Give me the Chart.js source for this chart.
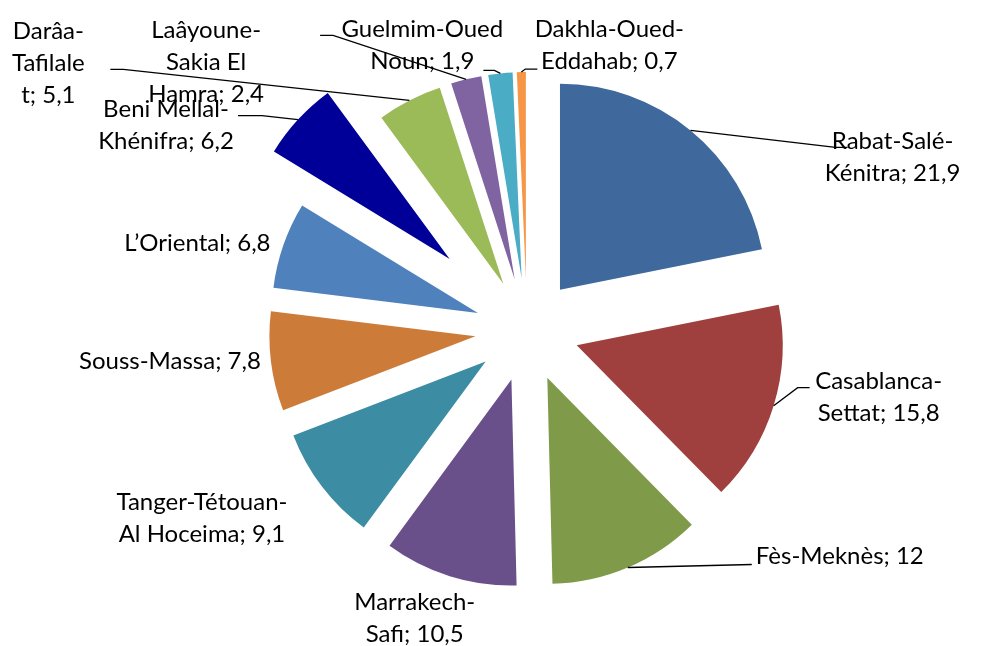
<!DOCTYPE html>
<html>
<head>
<meta charset="utf-8">
<script src="https://cdn.jsdelivr.net/npm/chart.js@4.4.1/dist/chart.umd.min.js"></script>
<style>
  html, body { margin: 0; padding: 0; background: #fff; }
  #zona { width: 987px; height: 646px; }
</style>
</head>
<body>
<div id="zona"><canvas id="graficoRegiones"></canvas></div>
<script>
// Datos
const regiones = [
    'Rabat-Salé-Kénitra', 'Casablanca-Settat', 'Fès-Meknès', 'Marrakech-Safi',
    'Tanger-Tétouan-Al Hoceima', 'Souss-Massa', 'L’Oriental', 'Beni Mellal-Khénifra',
    'Darâa-Tafilalet', 'Laâyoune-Sakia El Hamra', 'Guelmim-Oued Noun', 'Dakhla-Oued-Eddahab'
];
const partes = [21.9, 15.8, 12, 10.5, 9.1, 7.8, 6.8, 6.2, 5.1, 2.4, 1.9, 0.7];

// Estilo
const colores = ['#3F699C', '#A0403E', '#7F9A48', '#69508A', '#3C8CA3', '#CC7B38',
                 '#4F81BD', '#000099', '#9BBB59', '#8064A2', '#4BACC6', '#F79646'];
const separacion = [52, 52, 52, 52, 52, 52, 52, 105, 52, 52, 52, 52]; // px hacia fuera
const anchoTexto = [170, 160, 260, 140, 180, 260, 260, 160, 75, 140, 185, 170]; // ancho de ajuste
// desplazamiento del texto respecto al borde exterior de la porción
const posTexto = [[202, 27], [105, -8], [212, -11], [-35, 42], [-120, 32], [-101, 0],
                  [-86, -2], [-132, 6], [-361, -37], [-260, -17], [-78, -28], [88, -27]];
// línea guía: codo [dx, dy] y tramo horizontal
const guias = [[145, 17, 12], [24, -18, 12], [124, -3, 0], null, null, null,
               null, [-36, -4, -24], [-286, -31, -13], [-133, -44, -13], [-6, -3, -11], [4, -3, 12]];

const fuente = '24px Lato, Carlito, Calibri, sans-serif';
const altoLinea = 32;

function ajustar(ctx, texto, ancho) {
    // corta después de guion o espacio; si una palabra no cabe, corta por letras
    const trozos = texto.match(/[^\s-]+-?\s?|-\s?|\s/g);
    const lineas = [];
    let actual = '';
    trozos.forEach(t => {
        const prueba = actual + t;
        if (ctx.measureText(prueba.trim()).width <= ancho || actual === '') {
            actual = prueba;
        } else {
            lineas.push(actual.trim());
            actual = t;
        }
        while (ctx.measureText(actual.trim()).width > ancho && actual.trim().length > 1) {
            let k = actual.length - 1;
            while (k > 1 && ctx.measureText(actual.slice(0, k)).width > ancho) k--;
            lineas.push(actual.slice(0, k));
            actual = actual.slice(k);
        }
    });
    if (actual.trim()) lineas.push(actual.trim());
    return lineas;
}

const porcionesSeparadas = {
    id: 'porcionesSeparadas',
    beforeDatasetDraw(chart, args) {
        const ctx = chart.ctx;
        args.meta.data.forEach((arco, i) => {
            const medio = (arco.startAngle + arco.endAngle) / 2;
            ctx.save();
            ctx.translate(Math.cos(medio) * separacion[i], Math.sin(medio) * separacion[i]);
            arco.draw(ctx);
            ctx.restore();
        });
        return false;
    }
};

const etiquetas = {
    id: 'etiquetas',
    afterDatasetsDraw(chart) {
        const ctx = chart.ctx;
        const meta = chart.getDatasetMeta(0);
        ctx.save();
        ctx.font = fuente;
        ctx.fillStyle = '#000';
        ctx.strokeStyle = '#000';
        ctx.lineWidth = 1.3;
        ctx.textAlign = 'center';
        ctx.textBaseline = 'middle';
        meta.data.forEach((arco, i) => {
            const medio = (arco.startAngle + arco.endAngle) / 2;
            const r = arco.outerRadius + separacion[i];
            const px = arco.x + Math.cos(medio) * r;
            const py = arco.y + Math.sin(medio) * r;
            const g = guias[i];
            if (g) {
                ctx.beginPath();
                ctx.moveTo(px, py);
                ctx.lineTo(px + g[0], py + g[1]);
                ctx.lineTo(px + g[0] + g[2], py + g[1]);
                ctx.stroke();
            }
            const texto = regiones[i] + '; ' + String(partes[i]).replace('.', ',');
            const lineas = ajustar(ctx, texto, anchoTexto[i]);
            const cx = px + posTexto[i][0];
            const cy = py + posTexto[i][1];
            lineas.forEach((l, j) => {
                ctx.fillText(l, cx, cy + (j - (lineas.length - 1) / 2) * altoLinea);
            });
        });
        ctx.restore();
    }
};

const ctx = document.getElementById('graficoRegiones').getContext('2d');
new Chart(ctx, {
    type: 'pie',
    data: {
        labels: regiones,
        datasets: [{
            data: partes,
            backgroundColor: colores,
            borderWidth: 0
        }]
    },
    options: {
        responsive: true,
        maintainAspectRatio: false,
        animation: false,
        events: [],
        layout: { padding: { left: 277, right: 210, top: 124, bottom: 110 } },
        plugins: {
            legend: { display: false },
            tooltip: { enabled: false }
        }
    },
    plugins: [porcionesSeparadas, etiquetas]
});
</script>
</body>
</html>
